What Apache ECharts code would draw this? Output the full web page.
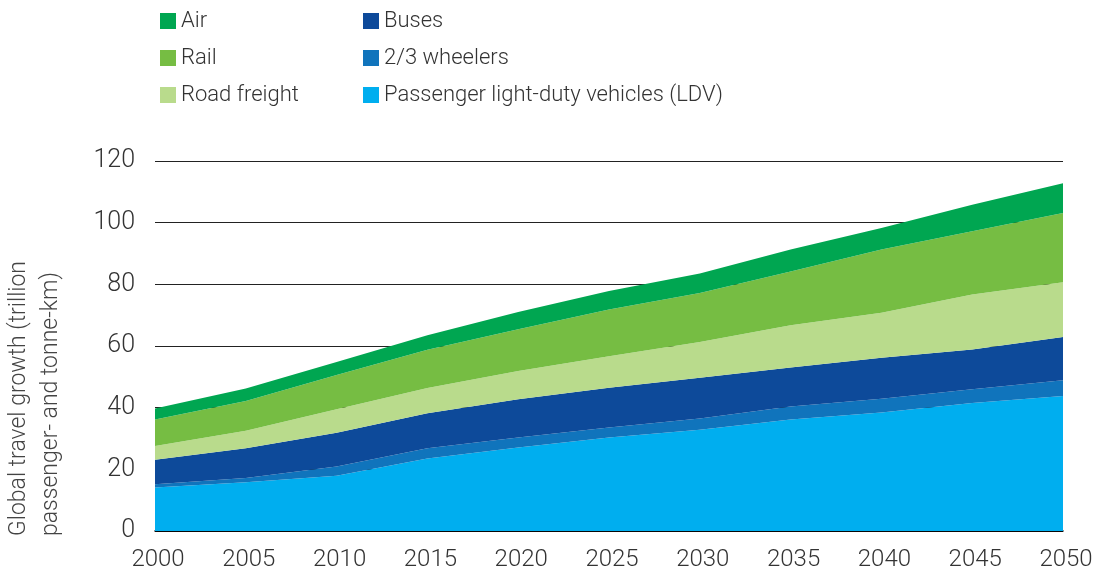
<!DOCTYPE html>
<html>
<head>
<meta charset="utf-8">
<script src="https://cdn.jsdelivr.net/npm/echarts@6/dist/echarts.min.js"></script>
<style>
  html, body { margin: 0; padding: 0; background: #fff; }
  #chart { width: 1098px; height: 572px; }
</style>
</head>
<body>
<div id="chart"></div>
<script>
// years on the x axis
var years = ['2000', '2005', '2010', '2015', '2020', '2025', '2030', '2035', '2040', '2045', '2050'];

// trillion passenger- and tonne-km, stacked bottom to top
var ldv         = [14.1, 15.8, 17.9, 23.5, 27.1, 30.3, 32.8, 36.2, 38.4, 41.5, 43.8];
var wheelers    = [1.1, 1.4, 3.0, 3.3, 3.2, 3.3, 3.7, 4.2, 4.5, 4.5, 5.1];
var buses       = [7.9, 9.6, 11.0, 11.4, 12.4, 12.9, 13.2, 12.6, 13.3, 12.9, 14.0];
var roadFreight = [4.5, 5.7, 7.6, 8.2, 9.2, 10.2, 11.6, 13.7, 14.6, 17.8, 17.8];
var rail        = [8.6, 9.7, 11.1, 12.4, 13.5, 15.1, 15.9, 17.5, 20.5, 20.5, 22.4];
var air         = [3.5, 4.0, 4.2, 4.7, 5.6, 6.0, 6.3, 7.1, 7.0, 8.6, 9.7];

var yTicks = [0, 20, 40, 60, 80, 100, 120];

var font = 'Roboto, "Liberation Sans", sans-serif';
var txt = '#333';

function area(name, data, color) {
    return {
        name: name,
        type: 'line',
        stack: 'total',
        data: data,
        symbol: 'none',
        lineStyle: {width: 0},
        areaStyle: {color: color, opacity: 1},
        itemStyle: {color: color},
        emphasis: {disabled: true}
    };
}

var legendText = {fontSize: 22, color: txt, fontFamily: font, fontWeight: 300};

var chart = echarts.init(document.getElementById('chart'));
chart.setOption({
    animation: false,
    textStyle: {fontFamily: font, fontWeight: 300},
    legend: [{
        left: 155, top: 5, orient: 'vertical',
        icon: 'rect', itemWidth: 16, itemHeight: 16, itemGap: 15,
        textStyle: legendText,
        data: ['Air', 'Rail', 'Road freight']
    }, {
        left: 358, top: 5, orient: 'vertical',
        icon: 'rect', itemWidth: 16, itemHeight: 16, itemGap: 15,
        textStyle: legendText,
        data: ['Buses', '2/3 wheelers', 'Passenger light-duty vehicles (LDV)']
    }],
    grid: {left: 155, right: 35, top: 161, bottom: 39, containLabel: false},
    graphic: [{
        type: 'text',
        left: 3, top: 261,
        style: {
            text: 'Global travel growth (trillion\npassenger- and tonne-km)',
            fontSize: 23, lineHeight: 32, fill: '#444',
            fontFamily: font, fontWeight: 300
        },
        rotation: Math.PI / 2,
        originX: 0, originY: 0
    }],
    xAxis: {
        type: 'category',
        data: years,
        boundaryGap: false,
        axisLine: {lineStyle: {color: '#000', width: 1.5}},
        axisTick: {show: false},
        axisLabel: {fontSize: 24, color: txt, margin: 17, padding: [0, 0, 0, 6], fontFamily: font, fontWeight: 300}
    },
    yAxis: {
        type: 'value',
        min: yTicks[0], max: yTicks[yTicks.length - 1], interval: 20,
        axisLine: {show: false},
        axisTick: {show: false},
        splitLine: {lineStyle: {color: '#222', width: 1}},
        axisLabel: {fontSize: 25, color: txt, margin: 20, fontFamily: font, fontWeight: 300}
    },
    series: [
        area('Passenger light-duty vehicles (LDV)', ldv, '#00aeef'),
        area('2/3 wheelers', wheelers, '#1074bc'),
        area('Buses', buses, '#0d4a9a'),
        area('Road freight', roadFreight, '#b9db8c'),
        area('Rail', rail, '#76bd43'),
        area('Air', air, '#00a651')
    ]
});
</script>
</body>
</html>
